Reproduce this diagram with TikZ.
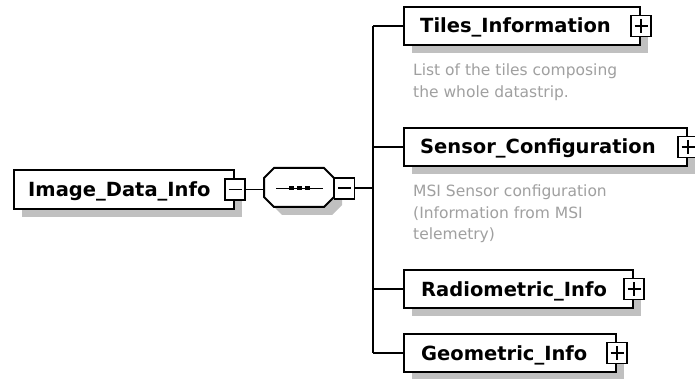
\documentclass[tikz,border=0pt]{standalone}
\usepackage{fontspec}
\setmainfont{DejaVu Sans}
\usetikzlibrary{shadows,calc}
\definecolor{shadowgray}{HTML}{C0C0C0}
\definecolor{descgray}{HTML}{A0A0A0}
\tikzset{
  elembox/.style={draw, line width=2pt, fill=white, rectangle, inner sep=0pt,
    minimum height=38pt, anchor=north west,
    general shadow={fill=shadowgray, shadow xshift=8pt, shadow yshift=-8pt}},
  elemtext/.style={anchor=base west, inner sep=0pt, font=\fontsize{19.5}{21}\selectfont\bfseries},
  expbox/.style={draw, line width=1.8pt, fill=white, rectangle, inner sep=0pt,
    minimum width=20pt, minimum height=21pt},
  minusbox/.style={expbox, path picture={
    \draw[line width=1.6pt] ([xshift=3.5pt]path picture bounding box.west) -- ([xshift=-3.5pt]path picture bounding box.east);}},
  plusbox/.style={expbox, path picture={
    \draw[line width=1.6pt] ([xshift=3.5pt]path picture bounding box.west) -- ([xshift=-3.5pt]path picture bounding box.east);
    \draw[line width=1.6pt] ([yshift=-3.5pt]path picture bounding box.north) -- ([yshift=3.5pt]path picture bounding box.south);}},
  conn/.style={line width=1.8pt},
  desc/.style={anchor=north west, inner sep=0pt, align=left, text=descgray,
    font=\fontsize{15.5}{21.5}\selectfont},
}
\begin{document}
\begin{tikzpicture}[x=1pt,y=-1pt]
\useasboundingbox[fill=white] (0,0) rectangle (695,379);

% root element
\node[elembox, minimum width=220pt, minimum height=39pt] (idi) at (13,169) {};
\node[elemtext] (idit) at ([xshift=15pt,yshift=-7pt]idi.west) {Image\_Data\_Info};
\node[minusbox] (idiexp) at (idi.east) {};

% sequence compositor
\node[inner sep=0pt, minimum width=70pt, minimum height=39pt, anchor=north west] (seq) at (264,168.5) {};
\fill[shadowgray] (282,176) -- (332,176) -- (342,186) -- (342,205) -- (332,215) -- (282,215) -- (272,205) -- (272,186) -- cycle;
\draw[line width=2pt, fill=white] (274,168) -- (324,168) -- (334,178) -- (334,197) -- (324,207) -- (274,207) -- (264,197) -- (264,178) -- cycle;
\draw[line width=1.5pt] (276,188.5) -- (323,188.5);
\foreach \cx in {291,299,307}{\fill (\cx-2.5,186.5) rectangle (\cx+2.5,190.5);}
\node[minusbox] (seqexp) at ([xshift=10pt]seq.east) {};

\draw[conn] (idiexp.east) -- (idiexp.east -| seq.west);

% children
\node[elembox, minimum width=236pt] (tiles) at (403,6) {};
\node[elemtext] (tilest) at ([xshift=17pt,yshift=-7pt]tiles.west) {Tiles\_Information};
\node[plusbox] (tilesexp) at (tiles.east) {};
\node[desc] (tilesd) at (413,64) {List of the tiles composing\\the whole datastrip.};

\node[elembox, minimum width=283pt] (sensor) at (403,127) {};
\node[elemtext] (sensort) at ([xshift=17pt,yshift=-7pt]sensor.west) {Sensor\_Configuration};
\node[plusbox] (sensorexp) at (sensor.east) {};
\node[desc] (sensord) at (413,185) {MSI Sensor configuration\\(Information from MSI\\telemetry)};

\node[elembox, minimum width=229pt] (radio) at (403,269) {};
\node[elemtext] (radiot) at ([xshift=18pt,yshift=-7pt]radio.west) {Radiometric\_Info};
\node[plusbox] (radioexp) at (radio.east) {};

\node[elembox, minimum width=212pt] (geo) at (403,333) {};
\node[elemtext] (geot) at ([xshift=18pt,yshift=-7pt]geo.west) {Geometric\_Info};
\node[plusbox] (geoexp) at (geo.east) {};

% connectors
\coordinate (bus) at (373,189);
\draw[conn] (seqexp.east) -- (seqexp.east -| bus);
\draw[conn] (bus |- tiles.west) -- (bus |- geo.west);
\draw[conn] (bus |- tiles.west) -- (tiles.west);
\draw[conn] (bus |- sensor.west) -- (sensor.west);
\draw[conn] (bus |- radio.west) -- (radio.west);
\draw[conn] (bus |- geo.west) -- (geo.west);
\end{tikzpicture}
\end{document}
